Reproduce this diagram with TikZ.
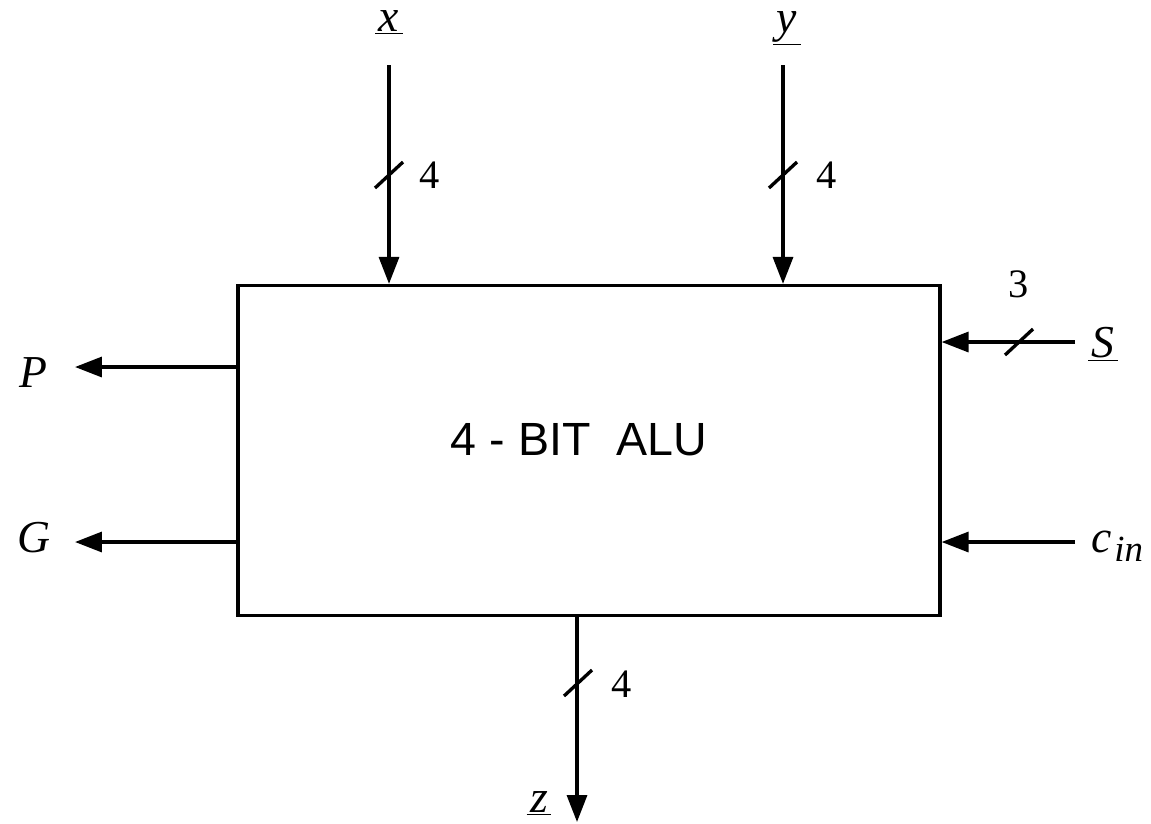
\documentclass[tikz,border=0pt]{standalone}
\usepackage{fontspec}
\setmainfont{Liberation Serif}
\newfontfamily\alufont{Liberation Sans}
\usetikzlibrary{arrows.meta,positioning,calc}
\newcommand{\ulab}[1]{\underline{\hspace{2pt}#1\hspace{2pt}}}

\begin{document}
\begin{tikzpicture}[x=0.02cm,y=-0.02cm,
  alu/.style={draw,line width=1.9pt,minimum width=14.04cm,minimum height=6.6cm},
  alutxt/.style={font=\alufont\fontsize{26.5}{26.5}\selectfont,inner sep=0pt},
  sig/.style={-{Triangle[length=0.54cm,width=0.4cm]},line width=1.9pt},
  lbl/.style={font=\fontsize{26}{26}\selectfont\itshape,inner sep=0pt,anchor=base},
  wd/.style={font=\fontsize{23}{23}\selectfont,inner sep=0pt,anchor=base},
  bus/.pic={\draw[line width=1.9pt] (-14,13) -- (14,-13);},
]
\useasboundingbox (0,0) rectangle (1151,823);

% the block
\node[alu] (alu) at (589,450.5) {};
\node[alutxt] (alutxt) at (579,440) {4 - BIT\ \ ALU};

% inputs x and y
\node[lbl,text height=0.5em] (xl) at (389,31) {\ulab{x}};
\node[lbl,text height=0.5em] (yl) at (787,32) {\ulab{y}};
\coordinate (xin) at (389,65);
\coordinate (yin) at (783,65);
\draw[sig] (xin) -- (xin |- alu.north);
\draw[sig] (yin) -- (yin |- alu.north);
\pic at (389,175) {bus};
\pic at (783,175) {bus};
\node[wd] (xw) at (430,188) {4};
\node[wd] (yw) at (827,188) {4};

% select and carry in
\node[lbl] (sl) at (1103,357) {\ulab{S}};
\coordinate (sin) at (1075,342);
\draw[sig] (sin) -- (sin -| alu.east);
\pic at (1019,342) {bus};
\node[wd] (sw) at (1019,297) {3};
\node[lbl,anchor=base west] (cl) at (1091,552)
  {c\kern1.5pt\raisebox{-5.5pt}{\fontsize{21}{21}\selectfont in}};
\coordinate (cin) at (1075,542);
\draw[sig] (cin) -- (cin -| alu.east);

% outputs P and G
\node[lbl] (pl) at (33,387) {P};
\node[lbl] (gl) at (34,552) {G};
\coordinate (pout) at (75,367);
\coordinate (gout) at (75,542);
\draw[sig] (alu.west |- pout) -- (pout);
\draw[sig] (alu.west |- gout) -- (gout);

% output z
\node[lbl] (zl) at (539,812) {\ulab{z}};
\coordinate (zout) at (577,822);
\draw[sig] (alu.south -| zout) -- (zout);
\pic at (578,683) {bus};
\node[wd] (zw) at (622,697) {4};
\end{tikzpicture}
\end{document}
